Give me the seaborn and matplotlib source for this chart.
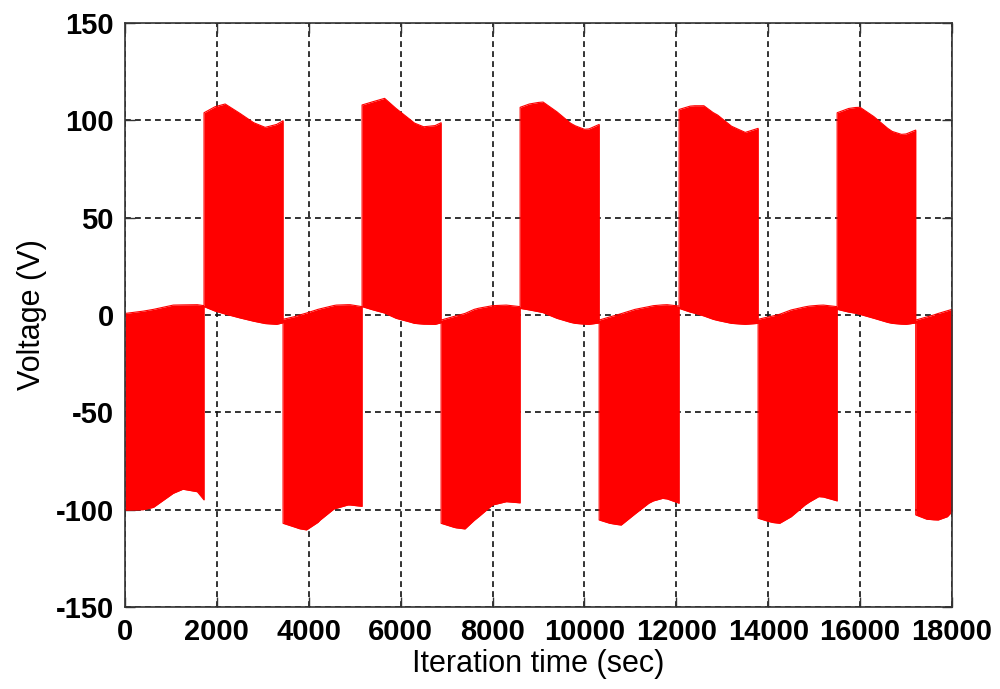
import numpy as np
import matplotlib
matplotlib.use("Agg")
import matplotlib.pyplot as plt
import seaborn as sns

# envelope of the switching voltage
# (x repeated at each switch instant so the edges are vertical)
Time = [0, 400, 620, 1050, 1260, 1575, 1720,
        1720, 1960, 2180, 2500, 2800, 3050, 3300, 3440,
        3440, 3700, 3800, 3950, 4200, 4250, 4550, 4600, 4850, 4900, 5160,
        5160, 5400, 5650, 5900, 6200, 6300, 6500, 6750, 6880,
        6880, 7150, 7200, 7400, 7600, 7700, 8000, 8300, 8600,
        8600, 8800, 9000, 9100, 9400, 9700, 9800, 10000, 10100, 10320,
        10320, 10550, 10700, 10800, 11100, 11400, 11500, 11700, 11800, 12060,
        12060, 12300, 12400, 12600, 12800, 12900, 13200, 13500, 13780,
        13780, 14000, 14100, 14250, 14500, 14800, 14900, 15100, 15200, 15500,
        15500, 15750, 15900, 16000, 16300, 16600, 16700, 16900, 17000, 17210,
        17210, 17450, 17600, 17700, 17900, 18000]

Upper = [0.8, 2.0, 2.9, 5.1, 5.2, 5.3, 4.8,
         103.9, 107.0, 108.4, 103.6, 98.8, 96.4, 97.9, 99.8,
         -2.2, -0.8, 0.0, 1.0, 2.9, 3.2, 4.9, 5.1, 5.3, 5.3, 4.3,
         107.9, 109.6, 111.3, 106.1, 100.5, 98.6, 96.7, 97.3, 98.8,
         -2.6, -0.8, -0.5, 0.8, 2.9, 3.5, 4.8, 5.1, 4.3,
         106.7, 108.4, 109.2, 109.4, 104.4, 98.5, 97.2, 95.4, 95.6, 97.9,
         -2.6, -1.0, 0.0, 0.7, 2.9, 4.3, 4.8, 5.2, 5.3, 4.6,
         105.6, 107.3, 107.5, 107.5, 104.0, 102.7, 97.0, 93.8, 95.9,
         -2.2, -1.0, -0.5, 0.4, 2.6, 4.2, 4.6, 5.0, 5.1, 4.3,
         103.9, 106.1, 106.6, 106.7, 101.9, 95.9, 94.3, 92.8, 93.0, 95.0,
         -2.6, -1.0, 0.0, 0.8, 2.2, 2.9]

Lower = [-100.2, -100.0, -98.8, -91.6, -89.5, -90.8, -95.0,
         4.3, 2.0, 0.5, -1.5, -3.2, -4.4, -4.8, -4.0,
         -107.0, -109.0, -109.8, -110.4, -106.5, -105.3, -99.6, -99.3, -97.6, -97.6, -98.3,
         4.3, 2.6, 1.0, -1.7, -3.6, -4.3, -4.7, -4.8, -4.0,
         -107.0, -109.0, -109.3, -109.9, -105.5, -103.6, -97.6, -95.9, -96.5,
         3.4, 2.6, 1.7, 1.2, -1.7, -3.8, -4.3, -4.7, -4.8, -4.1,
         -105.3, -107.0, -107.6, -107.9, -102.2, -96.7, -95.5, -94.2, -94.5, -96.7,
         3.4, 1.5, 0.9, -0.5, -2.2, -2.8, -4.3, -4.8, -4.3,
         -104.4, -106.0, -106.6, -107.0, -103.6, -97.6, -96.0, -93.3, -93.5, -95.5,
         2.9, 1.5, 0.9, 0.3, -1.7, -3.8, -4.3, -4.7, -4.8, -4.1,
         -102.7, -104.9, -105.2, -105.3, -103.6, -101.0]

x_ticks = [0, 2000, 4000, 6000, 8000, 10000, 12000, 14000, 16000, 18000]
y_ticks = [-150, -100, -50, 0, 50, 100, 150]

sns.set_style("white")
plt.rcParams['font.family'] = ['Liberation Sans', 'DejaVu Sans']
plt.rcParams['text.color'] = 'black'
plt.rcParams['axes.labelcolor'] = 'black'
plt.rcParams['xtick.color'] = 'black'
plt.rcParams['ytick.color'] = 'black'

fig = plt.figure(figsize=(10, 6.89), dpi=100)
ax = fig.add_axes([0.125, 0.119, 0.827, 0.8476])

# grid first, the red signal covers it
ax.grid(True, color='#111111', linestyle=(0, (3.5, 2.5)), lw=1.2)
ax.set_axisbelow(True)

ax.fill_between(Time, Lower, Upper, color='#ff0000', lw=0, zorder=2)
sns.lineplot(x=Time, y=Upper, estimator=None, sort=False, color='#ff0000', lw=0.8, ax=ax, zorder=2)
sns.lineplot(x=Time, y=Lower, estimator=None, sort=False, color='#ff0000', lw=0.8, ax=ax, zorder=2)

ax.set_xlim(0, 18000)
ax.set_ylim(-150, 150)
ax.set_xticks(x_ticks)
ax.set_yticks(y_ticks)
ax.set_xticklabels([str(t) for t in x_ticks], fontsize=21, fontweight='bold')
ax.set_yticklabels([str(t) for t in y_ticks], fontsize=21, fontweight='bold')

ax.tick_params(direction='in', length=7, width=1, color='#333333',
               labelcolor='black', top=True, right=True, bottom=True, left=True, pad=8)
for sp in ax.spines.values():
    sp.set_visible(True)
    sp.set_color('#333333')
    sp.set_linewidth(1.2)
    sp.set_zorder(4)

ax.set_xlabel('Iteration time (sec)', fontsize=22, labelpad=2, color='black')
ax.set_ylabel('Voltage (V)', fontsize=22, labelpad=6, color='black')

fig.savefig('out.png', dpi=100)
